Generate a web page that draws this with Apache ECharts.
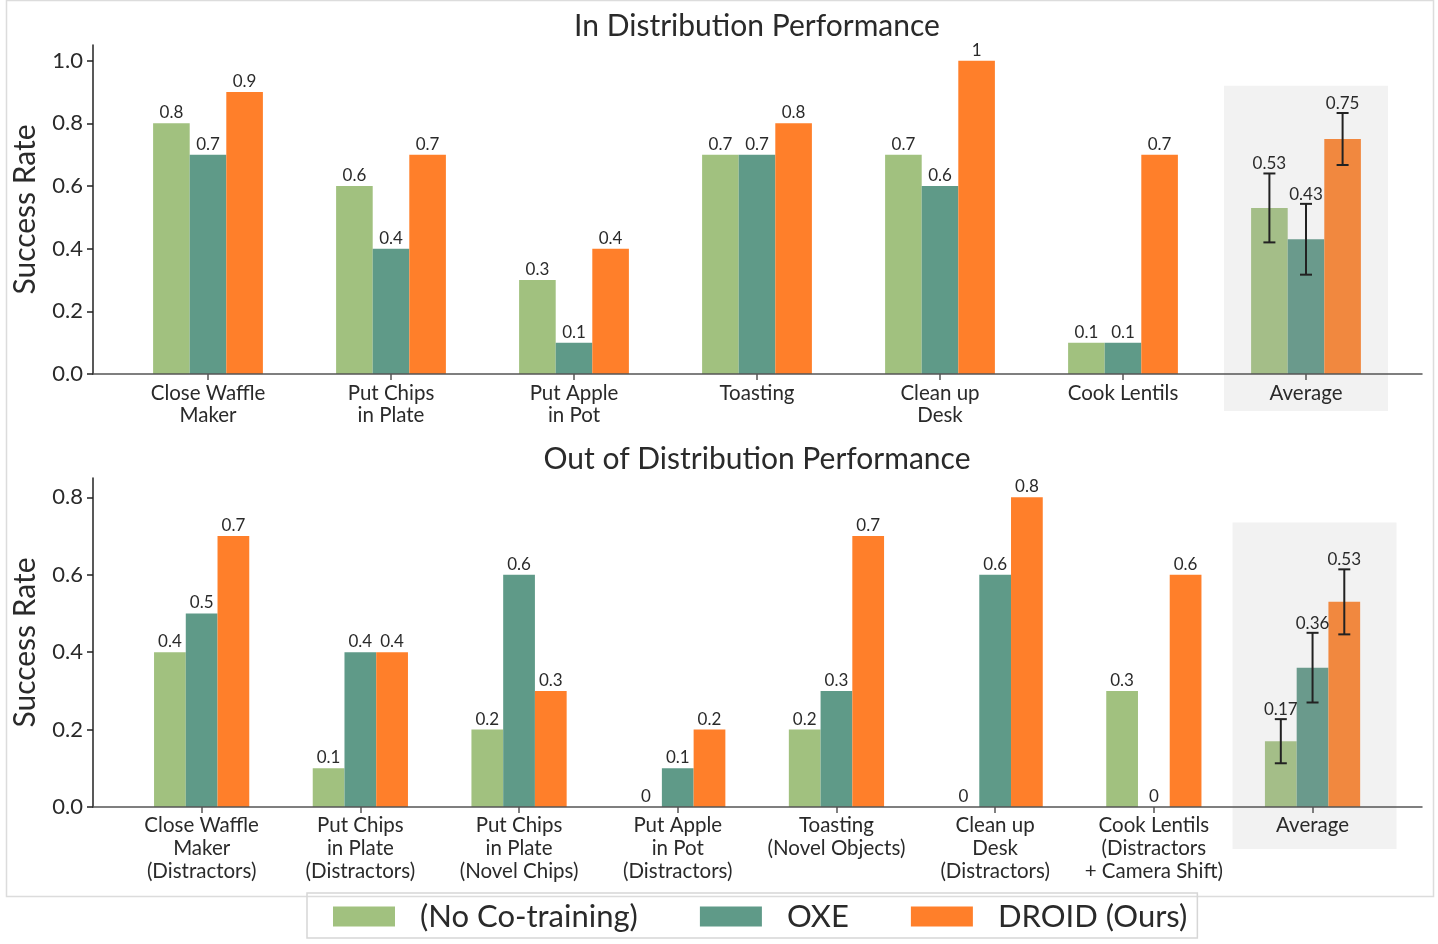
<!DOCTYPE html>
<html>
<head>
<meta charset="utf-8">
<script src="https://cdn.jsdelivr.net/npm/echarts@6/dist/echarts.min.js"></script>
<style>
html,body{margin:0;padding:0;background:#fff;}
#main{width:1438px;height:944px;}
</style>
</head>
<body>
<div id="main"></div>
<script>
// ---------- data ----------
const seriesNames = ['(No Co-training)', 'OXE', 'DROID (Ours)'];

const categoriesID = ['Close Waffle\nMaker', 'Put Chips\nin Plate', 'Put Apple\nin Pot', 'Toasting', 'Clean up\nDesk', 'Cook Lentils', 'Average'];
const noCotrainID = [0.8, 0.6, 0.3, 0.7, 0.7, 0.1, 0.53];
const oxeID       = [0.7, 0.4, 0.1, 0.7, 0.6, 0.1, 0.43];
const droidID     = [0.9, 0.7, 0.4, 0.8, 1, 0.7, 0.75];
const errID       = [0.11, 0.113, 0.083];   // error of the Average bars
const yTicksID    = [0, 0.2, 0.4, 0.6, 0.8, 1.0];

const categoriesOOD = ['Close Waffle\nMaker\n(Distractors)', 'Put Chips\nin Plate\n(Distractors)', 'Put Chips\nin Plate\n(Novel Chips)', 'Put Apple\nin Pot\n(Distractors)', 'Toasting\n(Novel Objects)', 'Clean up\nDesk\n(Distractors)', 'Cook Lentils\n(Distractors\n+ Camera Shift)', 'Average'];
const noCotrainOOD = [0.4, 0.1, 0.2, 0, 0.2, 0, 0.3, 0.17];
const oxeOOD       = [0.5, 0.4, 0.6, 0.1, 0.3, 0.6, 0, 0.36];
const droidOOD     = [0.7, 0.4, 0.3, 0.2, 0.7, 0.8, 0.6, 0.53];
const errOOD       = [0.057, 0.09, 0.084];
const yTicksOOD    = [0, 0.2, 0.4, 0.6, 0.8];

// ---------- style ----------
const FONT = 'Lato, "Noto Sans", sans-serif';
const colors = ['#a1c17f', '#5f9a88', '#ff7f2a'];
const avgColors = ['#a4be88', '#6a9a8c', '#f1883f'];
const axisColor = '#555';
const textColor = '#2a2a2a';

function barData(vals, si) {
  return vals.map((v, i) => i === vals.length - 1
    ? { value: v, itemStyle: { color: avgColors[si] }, label: { show: false } }
    : v);
}

function errRender(params, api) {
  const ci = api.value(0), v = api.value(1), e = api.value(2), s = api.value(3);
  const band = api.size([1, 0])[0];
  const x = api.coord([ci, v])[0] + s * 0.2 * band;
  const yT = api.coord([ci, v + e])[1];
  const yB = api.coord([ci, v - e])[1];
  const ls = { stroke: '#222', lineWidth: 2 };
  return {
    type: 'group',
    children: [
      { type: 'line', shape: { x1: x, y1: yT, x2: x, y2: yB }, style: ls },
      { type: 'line', shape: { x1: x - 6, y1: yT, x2: x + 6, y2: yT }, style: ls },
      { type: 'line', shape: { x1: x - 6, y1: yB, x2: x + 6, y2: yB }, style: ls },
      { type: 'text', style: { text: String(v), x: x, y: yT - 1, align: 'center', verticalAlign: 'bottom', fontSize: 17, fontFamily: FONT, fill: textColor } }
    ]
  };
}

function shadeRender(ext) {
  return function (params, api) {
    const ci = api.value(0), top = api.value(1), dx = api.value(2);
    const p = api.coord([ci, top]);
    const yB = api.coord([ci, 0])[1] + ext;
    return { type: 'rect', shape: { x: p[0] - 82 + dx, y: p[1], width: 164, height: yB - p[1] }, style: { fill: '#f2f2f2' } };
  };
}

function makeSeries(xi, yi, vals, errs, nCat, shadeTop, shadeExt, shadeDx) {
  const out = [];
  vals.forEach((arr, si) => {
    out.push({
      type: 'bar', name: seriesNames[si], xAxisIndex: xi, yAxisIndex: yi,
      data: barData(arr, si), barWidth: '20%', barGap: '0%',
      itemStyle: { color: colors[si] }, z: 3,
      label: { show: true, position: 'top', distance: 2, fontSize: 17, fontFamily: FONT, color: textColor }
    });
  });
  out.push({
    type: 'custom', xAxisIndex: xi, yAxisIndex: yi, z: 4, silent: true,
    renderItem: errRender,
    data: errs.map((e, si) => [nCat - 1, vals[si][nCat - 1], e, si - 1])
  });
  out.push({
    type: 'custom', xAxisIndex: xi, yAxisIndex: yi, z: 1, silent: true,
    renderItem: shadeRender(shadeExt),
    data: [[nCat - 1, shadeTop, shadeDx]]
  });
  return out;
}

function valueY(gi, ticks, max, show) {
  return {
    type: 'value', gridIndex: gi, min: 0, max: max,
    show: show, z: 5,
    name: show ? 'Success Rate' : '', nameLocation: 'middle', nameGap: 53,
    nameTextStyle: { fontSize: 30, fontFamily: FONT, color: textColor },
    splitLine: { show: false },
    axisLine: { show: true, lineStyle: { color: '#222', width: 1.5 } },
    axisTick: { show: true, length: 6, customValues: ticks, lineStyle: { color: '#222', width: 1.5 } },
    axisLabel: { customValues: ticks, formatter: v => v.toFixed(1), fontSize: 22, fontFamily: FONT, color: textColor, margin: 10 }
  };
}
function lineX(gi) {
  return {
    type: 'value', gridIndex: gi, min: 0, max: 1, z: 5,
    axisLine: { show: true, onZero: false, lineStyle: { color: axisColor, width: 1.5 } },
    axisTick: { show: false }, axisLabel: { show: false }, splitLine: { show: false }
  };
}
function catX(gi, cats, lh, margin) {
  return {
    type: 'category', gridIndex: gi, data: cats, z: 5,
    axisLine: { show: false },
    axisTick: { show: true, alignWithLabel: true, length: 6, lineStyle: { color: axisColor, width: 1.5 } },
    axisLabel: { fontSize: 20.5, lineHeight: lh, fontFamily: FONT, color: textColor, margin: margin, interval: 0 }
  };
}

const option = {
  animation: false,
  backgroundColor: '#fff',
  textStyle: { fontFamily: FONT },
  title: [
    { text: 'In Distribution Performance', left: 752, top: 6, textAlign: 'center', textStyle: { fontSize: 30, fontWeight: 'normal', fontFamily: FONT, color: textColor } },
    { text: 'Out of Distribution Performance', left: 752, top: 439, textAlign: 'center', textStyle: { fontSize: 30, fontWeight: 'normal', fontFamily: FONT, color: textColor } }
  ],
  legend: {
    data: seriesNames, left: 307, top: 893, orient: 'horizontal',
    icon: 'rect', itemWidth: 62, itemHeight: 20, itemGap: 62,
    padding: [8, 10, 6, 26], borderColor: '#d6d6d6', borderWidth: 1.5,
    textStyle: { fontSize: 31, fontFamily: FONT, color: textColor, padding: [0, 0, 0, 20] },
    selectedMode: false
  },
  grid: [
    { left: 93, right: 16, top: 45, height: 329 },
    { left: 116.5, width: 1281, top: 45, height: 329 },
    { left: 93, right: 16, top: 478, height: 329 },
    { left: 122.3, width: 1269.6, top: 478, height: 329 }
  ],
  xAxis: [lineX(0), catX(1, categoriesID, 22, 8), lineX(2), catX(3, categoriesOOD, 23, 7)],
  yAxis: [valueY(0, yTicksID, 1.05, true), valueY(1, yTicksID, 1.05, false),
          valueY(2, yTicksOOD, 0.85, true), valueY(3, yTicksOOD, 0.85, false)],
  series: [].concat(
    makeSeries(1, 1, [noCotrainID, oxeID, droidID], errID, categoriesID.length, 0.92, 37, 0),
    makeSeries(3, 3, [noCotrainOOD, oxeOOD, droidOOD], errOOD, categoriesOOD.length, 0.735, 42, 2)
  ),
  graphic: [
    { type: 'rect', left: 4, top: -2, z: -10, silent: true,
      shape: { width: 1427, height: 896 }, style: { fill: 'none', stroke: '#dcdcdc', lineWidth: 1.5 } }
  ]
};

const chart = echarts.init(document.getElementById('main'));
chart.setOption(option);
</script>
</body>
</html>
